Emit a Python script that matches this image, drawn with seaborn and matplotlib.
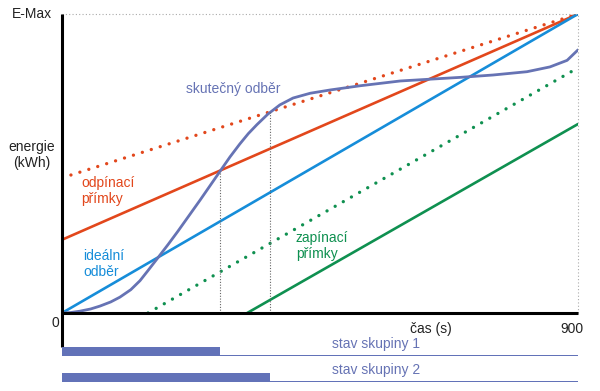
import numpy as np
import pandas as pd
import seaborn as sns
import matplotlib.pyplot as plt

# data (x: time in s, y: energy in % of E-Max)
t_end = 900
e_max = 100

ideal_x = [0, 900]
ideal_y = [0, 100]
off_solid_x = [0, 900]
off_solid_y = [24.5, 100]
off_dot_x = [0, 900]
off_dot_y = [45.2, 100]
on_dot_x = [150, 900]
on_dot_y = [0, 82]
on_solid_x = [323, 900]
on_solid_y = [0, 63.2]

real_x = [0, 15, 31, 50, 66, 85, 101, 120, 136, 150, 167, 185, 202, 241, 276,
          293, 310, 325, 340, 359, 380, 403, 433, 468, 520, 590, 694, 752,
          811, 851, 881, 900]
real_y = [0, 0.15, 0.6, 1.35, 2.3, 3.7, 5.3, 7.8, 10.8, 14.2, 18.4, 22.9, 27.3,
          37.8, 47.5, 52.2, 56.5, 60.0, 63.0, 66.5, 69.6, 71.9, 73.5, 74.6,
          76.0, 77.6, 78.8, 79.6, 80.7, 82.3, 84.5, 88.0]

switch_x = [276, 363]  # moments where group 1 and group 2 switch off
switch_y = [47.5, 67.2]

groups = ["stav skupiny 1", "stav skupiny 2"]

c_orange = "#e2471c"
c_blue = "#168dd9"
c_green = "#0f9050"
c_curve = "#6673b4"
c_bar = "#6272b8"

sns.set_style("white")
plt.rcParams["font.family"] = ["Liberation Sans", "DejaVu Sans"]

fig = plt.figure(figsize=(6, 3.91), dpi=100)
ax = fig.add_axes([62 / 600, 1 - 313 / 391, 516 / 600, 299 / 391])
ax.set_xlim(0, t_end)
ax.set_ylim(0, e_max)

dot = dict(linestyle=(0, (0.01, 2.8)), dash_capstyle="round", linewidth=2.4)
solid = dict(linewidth=1.9)

sns.lineplot(x=off_dot_x, y=off_dot_y, color=c_orange, ax=ax, **dot)
sns.lineplot(x=on_dot_x, y=on_dot_y, color=c_green, ax=ax, **dot)
sns.lineplot(x=off_solid_x, y=off_solid_y, color=c_orange, ax=ax, **solid)
sns.lineplot(x=ideal_x, y=ideal_y, color=c_blue, ax=ax, **solid)
sns.lineplot(x=on_solid_x, y=on_solid_y, color=c_green, ax=ax, **solid)
sns.lineplot(x=real_x, y=real_y, color=c_curve, ax=ax, linewidth=2.0, sort=False)

ax.vlines(switch_x, 0, switch_y, colors="#666666", linestyles=(0, (1, 1.5)), linewidth=0.8)
ax.plot([0, t_end], [e_max, e_max], color="#aaaaaa", linestyle=(0, (1, 2)), linewidth=0.8, clip_on=False)
ax.plot([t_end, t_end], [0, e_max], color="#aaaaaa", linestyle=(0, (1, 2)), linewidth=0.8, clip_on=False)

# axes as thick black lines
for s in ax.spines.values():
    s.set_visible(False)
ax.plot([0, 0], [-11.5, e_max], color="black", linewidth=2.2, clip_on=False, solid_capstyle="butt")
ax.plot([0, t_end], [0, 0], color="black", linewidth=2.2, clip_on=False, solid_capstyle="butt")
ax.set_xticks([])
ax.set_yticks([])

fs = 10
ax.text(298, 74.9, "skutečný odběr", color=c_curve, fontsize=fs, ha="center", va="center")
ax.text(33, 40.8, "odpínací\npřímky", color=c_orange, fontsize=fs, ha="left", va="center", linespacing=1.2)
ax.text(37, 16.4, "ideální\nodběr", color=c_blue, fontsize=fs, ha="left", va="center", linespacing=1.2)
ax.text(408, 22.4, "zapínací\npřímky", color=c_green, fontsize=fs, ha="left", va="center", linespacing=1.2)

fig.text(52 / 600, 1 - 14 / 391, "E-Max", fontsize=fs, ha="right", va="center", color="#222222")
fig.text(32 / 600, 1 - 155 / 391, "energie\n(kWh)", fontsize=fs, ha="center", va="center",
         color="#222222", linespacing=1.15)
fig.text(55 / 600, 1 - 323 / 391, "0", fontsize=fs, ha="center", va="center", color="#222222")
fig.text(431 / 600, 1 - 329 / 391, "čas (s)", fontsize=fs, ha="center", va="center", color="#222222")
fig.text(572 / 600, 1 - 329 / 391, "900", fontsize=fs, ha="center", va="center", color="#222222")

# group status strip (y in pixels below the top of this strip)
ax2 = fig.add_axes([62 / 600, 0, 516 / 600, 56 / 391])
ax2.set_xlim(0, t_end)
ax2.set_ylim(56, 0)
ax2.axis("off")
status = pd.DataFrame({"group": groups, "off_at": switch_x, "row": [21.0, 47.0]})
for _, r in status.iterrows():
    base = float(r["row"])
    ax2.fill_between([0, r["off_at"]], base - 9, base, color=c_bar, linewidth=0)
    ax2.fill_between([0, t_end], base - 1.4, base, color=c_bar, linewidth=0)
    ax2.text(548, base - 12, r["group"], color=c_curve, fontsize=fs,
             ha="center", va="center")

fig.savefig("out.png", dpi=100)
